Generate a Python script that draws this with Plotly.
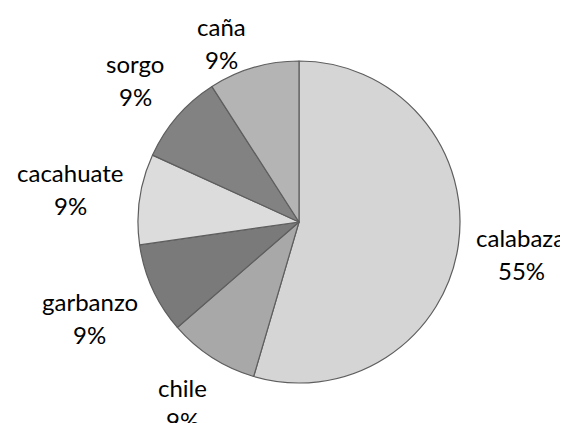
import math
import plotly.graph_objects as go

categories = ["calabaza", "chile", "garbanzo", "cacahuate", "sorgo", "caña"]
values = [6, 1, 1, 1, 1, 1]
colors = ["#d5d5d5", "#a8a8a8", "#7a7a7a", "#dcdcdc", "#828282", "#b4b4b4"]

# page body has an 8px margin, so the figure fills the visible 560x415 area
OFF = 8
W, H = 568 - OFF, 423 - OFF
cx, cy, r = 299 - OFF, 222 - OFF, 161
font = dict(family="Lato, 'Open Sans', sans-serif", size=24, color="#000000")
domain = dict(x=[(cx - r) / W, (cx + r) / W], y=[1 - (cy + r) / H, 1 - (cy - r) / H])

fig = go.Figure()
fig.add_trace(go.Pie(
    labels=categories, values=values, sort=False, direction="clockwise", rotation=0,
    marker=dict(colors=colors, line=dict(color="#5e5e5e", width=1.2)),
    textinfo="none", hoverinfo="label+percent", showlegend=False, domain=domain,
))

total = sum(values)
cum = 0
ann = []
gap = 12
ymin = 43 - OFF
for lab, v in zip(categories, values):
    mid = (cum + v / 2) / total * 2 * math.pi
    cum += v
    pct = f"{round(v / total * 100):.0f}%"
    s, c = math.sin(mid), math.cos(mid)
    w = max(len(lab), len(pct)) * 12
    h = 64
    d = r + gap + (w / 2) * abs(s) + (h / 2) * abs(c)
    px, py = cx + d * s, cy - d * c
    if py < ymin:
        d = (cy - ymin) / abs(c)
        px, py = cx + d * s - 25, ymin
    est_w = len(lab) * 11.5
    lbl = dict(text=lab, showarrow=False, font=font, yanchor="middle", xref="paper", yref="paper")
    pc = dict(text=pct, showarrow=False, font=font, yanchor="middle", xref="paper", yref="paper")
    if px + est_w / 2 > W - 1:
        right = W - 1
        lbl.update(x=right / W, xanchor="right")
        pc.update(x=(right - est_w / 2) / W, xanchor="center")
    else:
        lbl.update(x=px / W, xanchor="center")
        pc.update(x=px / W, xanchor="center")
    lbl["y"] = 1 - (py - 16.5) / H
    pc["y"] = 1 - (py + 16.5) / H
    ann += [lbl, pc]

fig.update_layout(
    width=W, height=H, margin=dict(l=0, r=0, t=0, b=0),
    paper_bgcolor="white", plot_bgcolor="white", annotations=ann,
)
fig.write_html("out.html")
